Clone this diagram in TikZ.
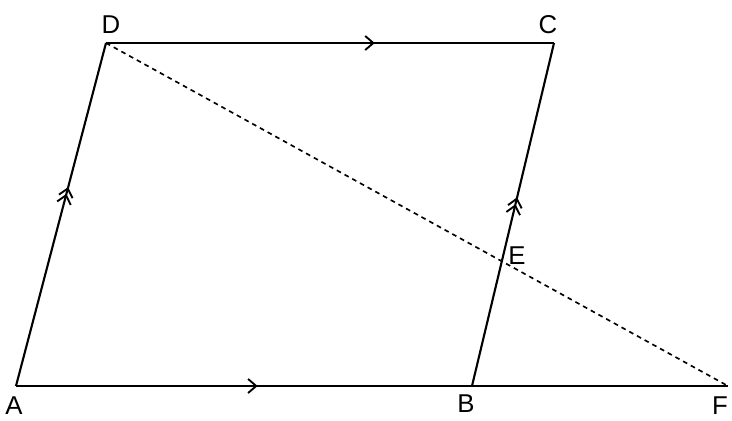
\documentclass[tikz,border=0pt]{standalone}
\usepackage{fontspec}
\setmainfont{Liberation Sans}
\usetikzlibrary{arrows.meta,decorations.markings,calc,intersections}

\tikzset{barb/.tip={Straight Barb[length=7pt,width=12pt,line width=1.6pt]}}

\begin{document}
\begin{tikzpicture}[x=0.03cm, y=0.03cm, line width=1.8pt,
  onemark/.style={postaction={decorate,decoration={markings,
    mark=at position #1 with {\arrow{barb}}}}},
  twomark/.style={postaction={decorate,decoration={markings,
    mark=at position #1 with {\arrow{barb}\arrow[xshift=-6pt]{barb}}}}},
  lbl/.style={font=\fontsize{22}{26}\selectfont, inner sep=0pt}]
  \useasboundingbox (0,0) rectangle (732,420);

  % Vertices of the parallelogram
  \coordinate (A) at (16,34);
  \coordinate (B) at (472,34);
  \coordinate (C) at (554,377);
  \coordinate (D) at (106,377);
  \coordinate (F) at (728,34);

  % Sides with parallel marks
  \draw[onemark=0.53] (A) -- (B);
  \draw (B) -- (F);
  \draw[onemark=0.60] (D) -- (C);
  \draw[twomark=0.55, name path=bc] (B) -- (C);
  \draw[twomark=0.58] (A) -- (D);

  % Dashed line from D to F
  \draw[dashed, dash pattern=on 4pt off 3.5pt, line width=1.4pt, name path=df] (D) -- (F);
  \path[name intersections={of=bc and df, by=E}];

  % Labels
  \node[lbl] (lA) at (14,14) {A};
  \node[lbl] (lB) at (466,16) {B};
  \node[lbl] (lF) at (720,14) {F};
  \node[lbl] (lD) at (111,395) {D};
  \node[lbl] (lC) at (548,395) {C};
  \node[lbl] (lE) at (517,164) {E};
\end{tikzpicture}
\end{document}
